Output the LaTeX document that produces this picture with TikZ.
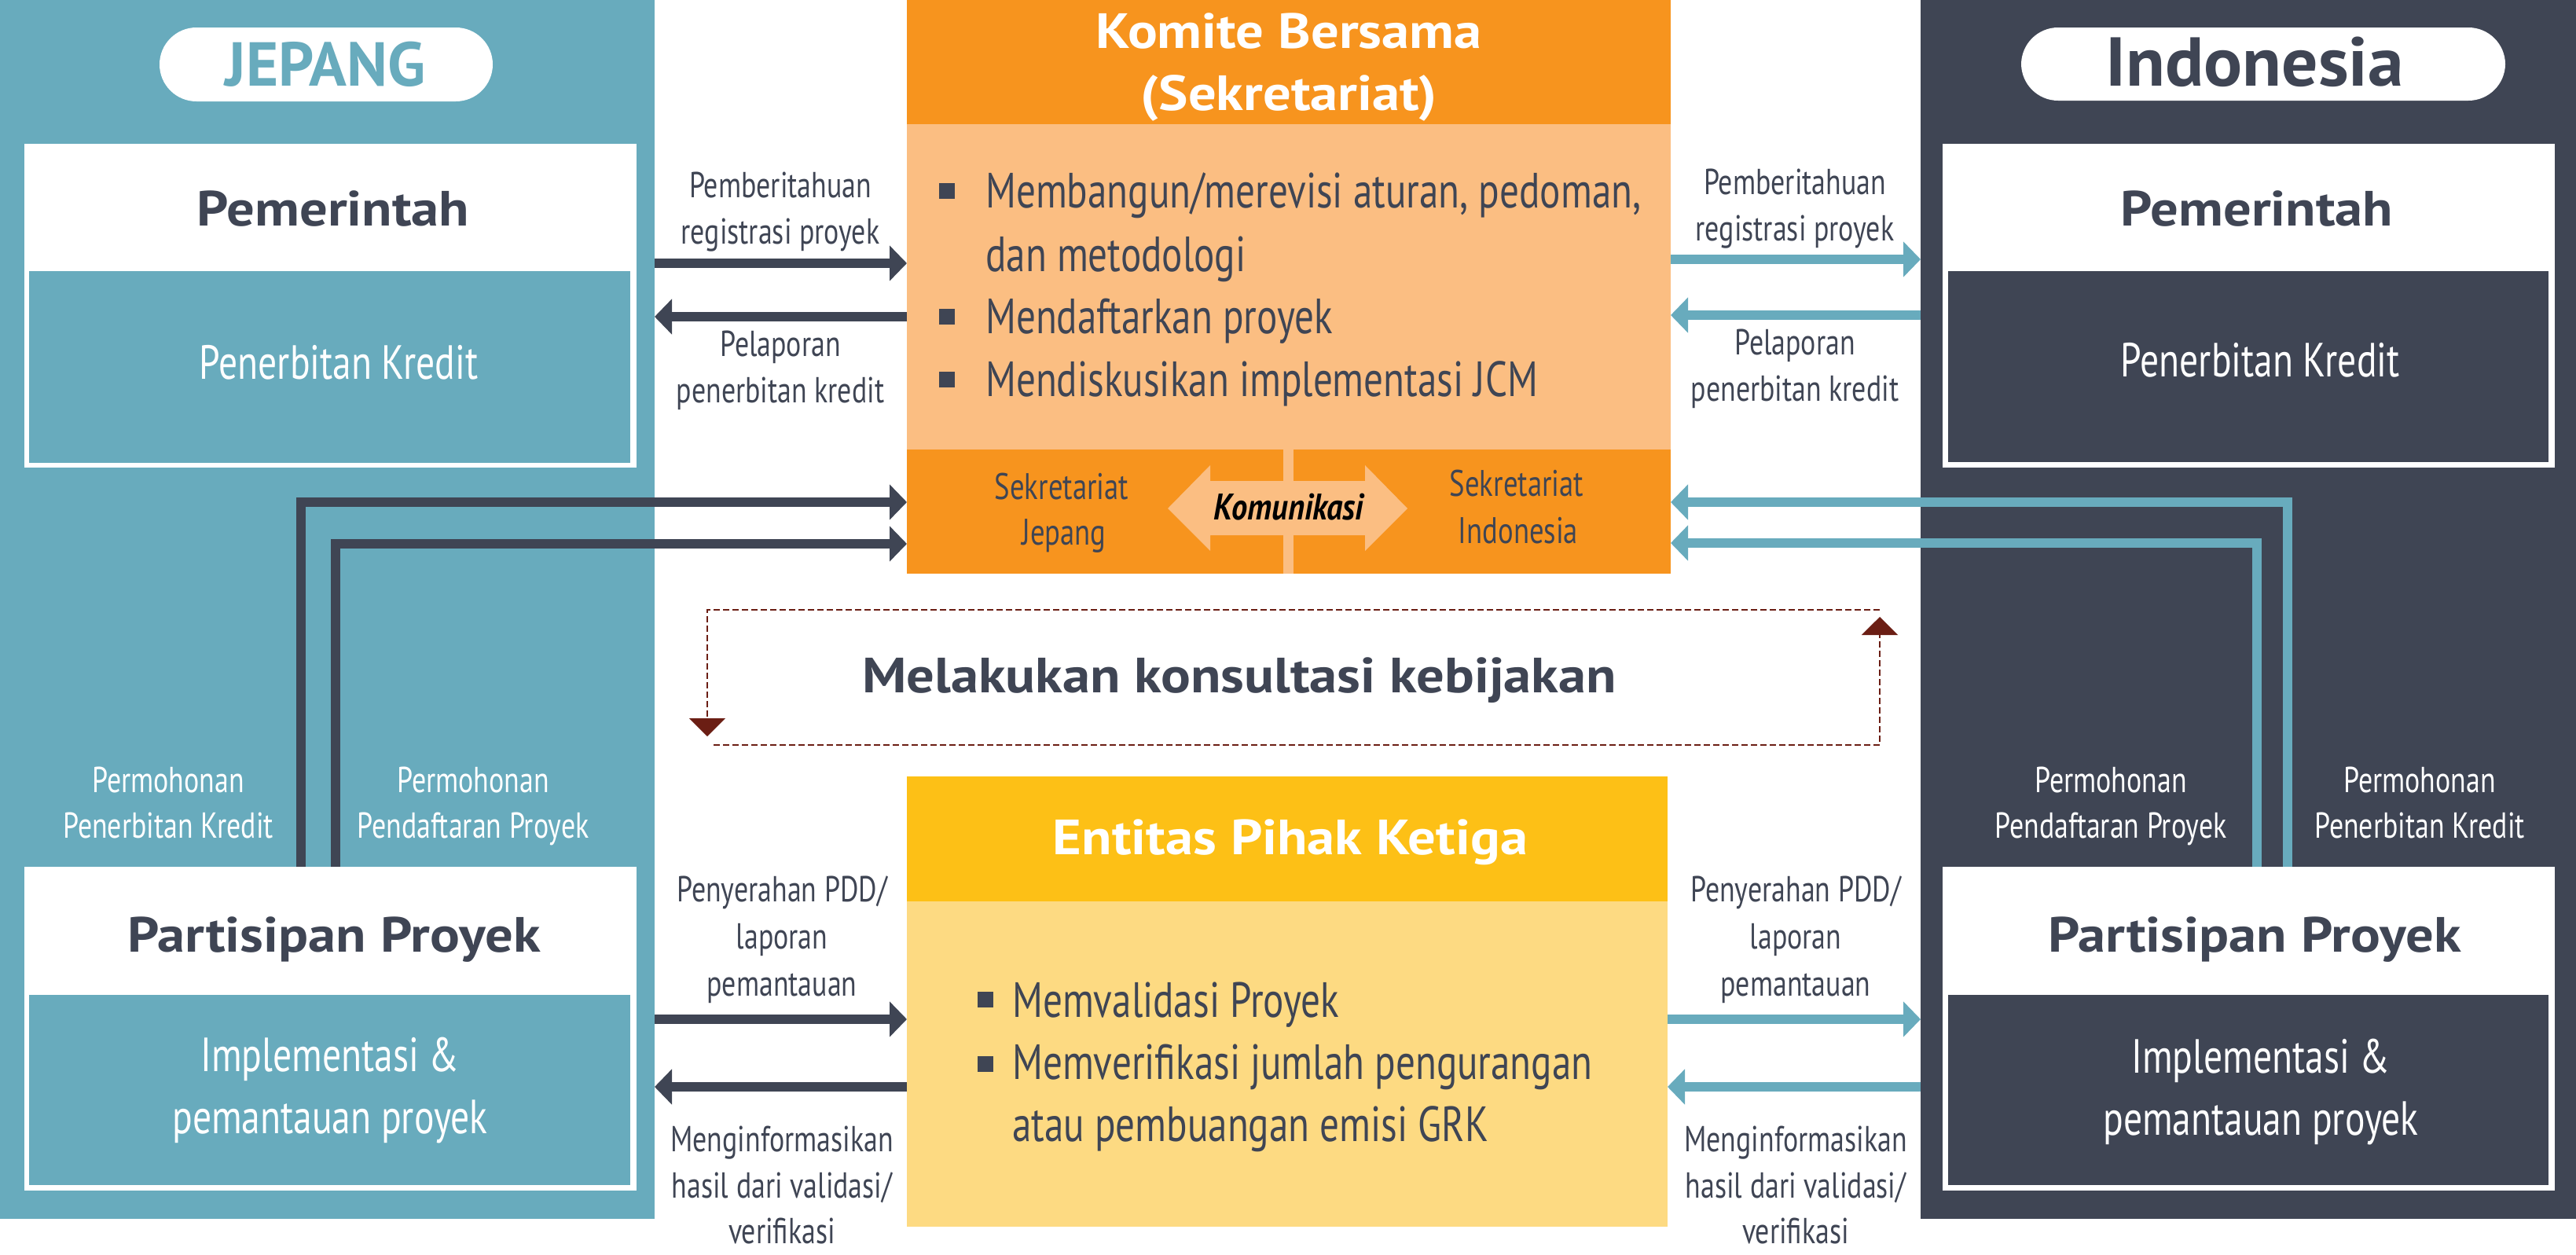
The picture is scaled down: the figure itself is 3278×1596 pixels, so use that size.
\documentclass[tikz,border=0pt]{standalone}
\usepackage{fontspec}
\setmainfont{PT Sans}
\newfontfamily\cnd[FakeStretch=0.78]{PT Sans}
\newfontfamily\bld[FakeStretch=1.12]{PT Sans}
\newfontfamily\kmf[FakeStretch=0.86]{PT Sans}
\newfontfamily\indf[FakeStretch=1.04]{PT Sans}
\usetikzlibrary{arrows.meta}
\definecolor{cteal}{HTML}{68ABBD}
\definecolor{cdark}{HTML}{3F4554}
\definecolor{corange}{HTML}{F7941E}
\definecolor{clor}{HTML}{FBBE82}
\definecolor{cyel}{HTML}{FDC016}
\definecolor{clyel}{HTML}{FDDA82}
\definecolor{cred}{HTML}{6B1E14}
\tikzset{
  panel/.style={inner sep=0pt, outer sep=0pt, anchor=north west},
  lbl/.style={font=\cnd\fontsize{46}{59}\selectfont, text=cdark, anchor=base, inner sep=0pt},
  wlbl/.style={lbl, text=white},
  ttl/.style={font=\bld\bfseries\fontsize{63}{70}\selectfont, text=cdark, anchor=base, inner sep=0pt},
  ttlw/.style={ttl, text=white},
  sub/.style={font=\cnd\fontsize{61}{78}\selectfont, text=white, anchor=base, inner sep=0pt},
  blt/.style={font=\cnd\fontsize{63}{80}\selectfont, text=cdark, anchor=base west, inner sep=0pt},
  sq/.style={fill=cdark, inner sep=0pt, minimum size=20pt, anchor=center},
  arr/.style={line width=12pt, -{Triangle[length=22pt,width=44pt]}},
  dashline/.style={draw=cred, line width=2.2pt, dash pattern=on 8pt off 4pt},
  dtip/.style={-{Triangle[length=23pt,width=46pt]}},
}
\begin{document}
\begin{tikzpicture}[x=1pt,y=-1pt]
\useasboundingbox (0,0) rectangle (3278,1596);
% side panels
\node[panel, fill=cteal, minimum width=833pt, minimum height=1551pt] (jpanel) at (0,0) {};
\node[panel, fill=cdark, minimum width=834pt, minimum height=1551pt] (ipanel) at (2444,0) {};
% name pills
\node[fill=white, rounded corners=47pt, minimum width=424pt, minimum height=94pt, inner sep=0pt] (jname) at (415,82) {};
\node[anchor=base, inner sep=0pt, font=\bfseries\fontsize{79}{79}\selectfont, text=cteal] (jnamet) at (414,109) {JEPANG};
\node[fill=white, rounded corners=47pt, minimum width=616pt, minimum height=93pt, inner sep=0pt] (iname) at (2880,81.5) {};
\node[anchor=base, inner sep=0pt, font=\indf\bfseries\fontsize{88}{88}\selectfont, text=cdark] (inamet) at (2869,109) {Indonesia};
% government boxes
\node[panel, fill=white, minimum width=779pt, minimum height=412pt] (jgov) at (31,183) {};
\node[panel, fill=cteal, minimum width=765pt, minimum height=244pt] (jgovin) at (37,345) {};
\node[ttl] (jgovt) at (424,287) {Pemerintah};
\node[sub] (jgovs) at (431,482) {Penerbitan Kredit};
\node[panel, fill=white, minimum width=779pt, minimum height=412pt] (igov) at (2472,183) {};
\node[panel, fill=cdark, minimum width=764pt, minimum height=243pt] (igovin) at (2479,345) {};
\node[ttl] (igovt) at (2872,287) {Pemerintah};
\node[sub] (igovs) at (2876,479) {Penerbitan Kredit};
% participant boxes
\node[panel, fill=white, minimum width=779pt, minimum height=412pt] (jpp) at (31,1103) {};
\node[panel, fill=cteal, minimum width=765pt, minimum height=242pt] (jppin) at (37,1266) {};
\node[ttl] (jppt) at (425,1211) {Partisipan Proyek};
\node[sub] (jpps1) at (420,1363) {Implementasi \&};
\node[sub] (jpps2) at (420,1442) {pemantauan proyek};
\node[panel, fill=white, minimum width=779pt, minimum height=412pt] (ipp) at (2472,1103) {};
\node[panel, fill=cdark, minimum width=764pt, minimum height=242pt] (ippin) at (2479,1266) {};
\node[ttl] (ippt) at (2869,1211) {Partisipan Proyek};
\node[sub] (ipps1) at (2877,1365) {Implementasi \&};
\node[sub] (ipps2) at (2877,1444) {pemantauan proyek};
% joint committee
\node[panel, fill=corange, minimum width=972pt, minimum height=729.5pt] (kom) at (1154,0) {};
\node[panel, fill=clor, minimum width=972pt, minimum height=414.5pt] (kombody) at (1154,157.5) {};
\node[panel, fill=clor, minimum width=13pt, minimum height=157.5pt] (komdiv) at (1633,572) {};
\node[ttlw] (komt1) at (1640,61) {Komite Bersama};
\node[ttlw] (komt2) at (1640,140) {(Sekretariat)};
\node[sq] (kb1) at (1205,243) {};
\node[sq] (kb2) at (1205,403) {};
\node[sq] (kb3) at (1205,483) {};
\node[blt] (kt1) at (1254,264) {Membangun/merevisi aturan, pedoman,};
\node[blt] (kt2) at (1254,345) {dan metodologi};
\node[blt] (kt3) at (1254,424) {Mendaftarkan proyek};
\node[blt] (kt4) at (1254,504) {Mendiskusikan implementasi JCM};
\fill[clor] (1486,647) -- (1540,592) -- (1540,612) -- (1737,612) -- (1737,592) -- (1791,647)
  -- (1737,701) -- (1737,681) -- (1540,681) -- (1540,701) -- cycle;
\node[lbl, font=\cnd\fontsize{47}{59}\selectfont] (sj1) at (1351,635) {Sekretariat};
\node[lbl, font=\cnd\fontsize{47}{59}\selectfont] (sj2) at (1354,693) {Jepang};
\node[lbl, font=\cnd\fontsize{47}{59}\selectfont] (si1) at (1930,631) {Sekretariat};
\node[lbl, font=\cnd\fontsize{47}{59}\selectfont] (si2) at (1932,691) {Indonesia};
\node[anchor=base, inner sep=0pt, font=\kmf\bfseries\itshape\fontsize{47}{47}\selectfont, text=black] (komm) at (1640,661) {Komunikasi};
% third party entity
\node[panel, fill=cyel, minimum width=968pt, minimum height=573pt] (tpe) at (1154,988) {};
\node[panel, fill=clyel, minimum width=968pt, minimum height=414pt] (tpebody) at (1154,1147) {};
\node[ttlw] (tpet) at (1642,1087) {Entitas Pihak Ketiga};
\node[sq] (tb1) at (1253.5,1272) {};
\node[sq] (tb2) at (1253.5,1354) {};
\node[blt] (tt1) at (1288,1294) {Memvalidasi Proyek};
\node[blt] (tt2) at (1288,1373) {Memverifikasi jumlah pengurangan};
\node[blt] (tt3) at (1288,1452) {atau pembuangan emisi GRK};
% policy consultation
\node[ttl] (pol) at (1577,881) {Melakukan konsultasi kebijakan};
\coordinate (pa) at (2392,776);
\coordinate (pb) at (900,776);
\coordinate (pc) at (900,937);
\coordinate (pd) at (908,948);
\coordinate (pe) at (2392,948);
\coordinate (pf) at (2392,785);
\draw[dashline, dtip] (pa) -- (pb) -- (pc);
\draw[dashline, dtip] (pd) -- (pe) -- (pf);
% arrows top
\draw[arr, draw=cdark] (jpanel.east |- 0,335) -- (kom.west |- 0,335);
\draw[arr, draw=cdark] (kom.west |- 0,403) -- (jpanel.east |- 0,403);
\draw[arr, draw=cteal] (kom.east |- 0,330) -- (ipanel.west |- 0,330);
\draw[arr, draw=cteal] (ipanel.west |- 0,401) -- (kom.east |- 0,401);
\node[lbl] (la1) at (993,251) {Pemberitahuan};
\node[lbl] (la2) at (993,310) {registrasi proyek};
\node[lbl] (lb1) at (993,453) {Pelaporan};
\node[lbl] (lb2) at (993,512) {penerbitan kredit};
\node[lbl] (ra1) at (2284,247) {Pemberitahuan};
\node[lbl] (ra2) at (2284,306) {registrasi proyek};
\node[lbl] (rb1) at (2284,451) {Pelaporan};
\node[lbl] (rb2) at (2284,510) {penerbitan kredit};
% L arrows
\draw[arr, draw=cdark] (jpp.north -| 383,0) |- (kom.west |- 0,639);
\draw[arr, draw=cdark] (jpp.north -| 427,0) |- (kom.west |- 0,692);
\draw[arr, draw=cteal] (ipp.north -| 2911,0) |- (kom.east |- 0,639);
\draw[arr, draw=cteal] (ipp.north -| 2872,0) |- (kom.east |- 0,691);
\node[wlbl] (lp1) at (214,1008) {Permohonan};
\node[wlbl] (lp2) at (214,1066) {Penerbitan Kredit};
\node[wlbl] (lq1) at (602,1008) {Permohonan};
\node[wlbl] (lq2) at (602,1066) {Pendaftaran Proyek};
\node[wlbl] (rq1) at (2686,1008) {Permohonan};
\node[wlbl] (rq2) at (2686,1066) {Pendaftaran Proyek};
\node[wlbl] (rp1) at (3079,1008) {Permohonan};
\node[wlbl] (rp2) at (3079,1066) {Penerbitan Kredit};
% arrows bottom
\draw[arr, draw=cdark] (jpanel.east |- 0,1297) -- (tpe.west |- 0,1297);
\draw[arr, draw=cdark] (tpe.west |- 0,1383) -- (jpanel.east |- 0,1383);
\draw[arr, draw=cteal] (tpe.east |- 0,1297) -- (ipanel.west |- 0,1297);
\draw[arr, draw=cteal] (ipanel.west |- 0,1383) -- (tpe.east |- 0,1383);
\node[lbl] (lc1) at (995,1147) {Penyerahan PDD/};
\node[lbl] (lc2) at (995,1207) {laporan};
\node[lbl] (lc3) at (995,1267) {pemantauan};
\node[lbl] (ld1) at (995,1465) {Menginformasikan};
\node[lbl] (ld2) at (995,1524) {hasil dari validasi/};
\node[lbl] (ld3) at (995,1582) {verifikasi};
\node[lbl] (rc1) at (2285,1147) {Penyerahan PDD/};
\node[lbl] (rc2) at (2285,1207) {laporan};
\node[lbl] (rc3) at (2285,1267) {pemantauan};
\node[lbl] (rd1) at (2285,1465) {Menginformasikan};
\node[lbl] (rd2) at (2285,1524) {hasil dari validasi/};
\node[lbl] (rd3) at (2285,1582) {verifikasi};
\end{tikzpicture}
\end{document}
